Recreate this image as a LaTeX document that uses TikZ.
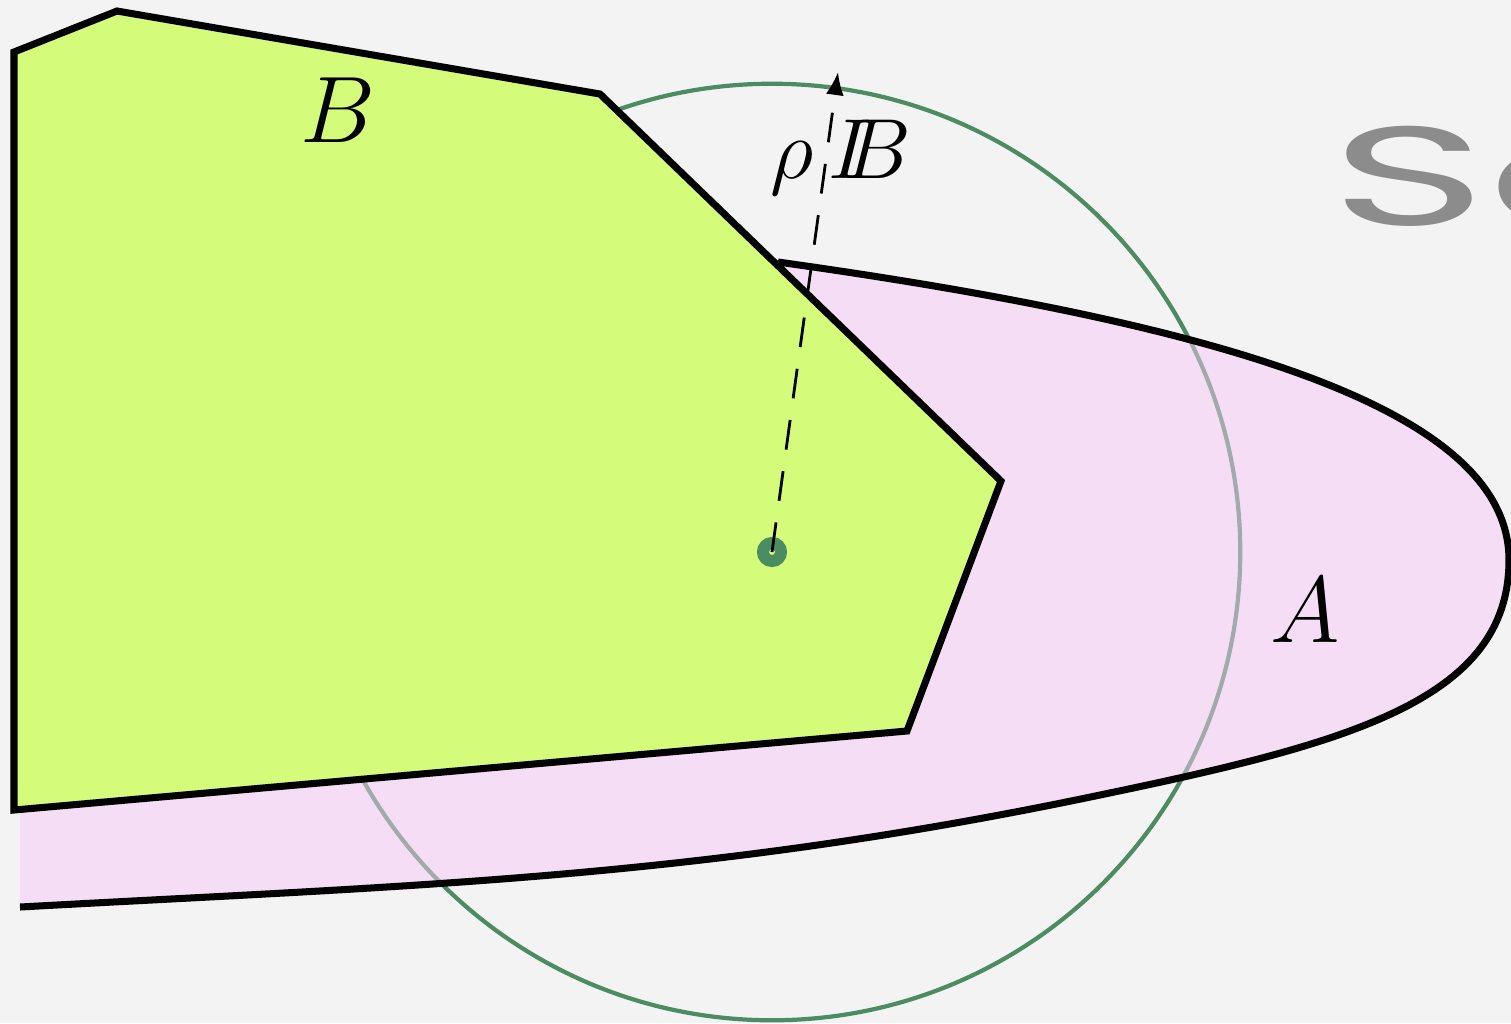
\documentclass[tikz,border=0pt]{standalone}
\usepackage{amsmath,amssymb}
\usepackage{fontspec}
\newfontfamily\scfont{Poppins}
\usetikzlibrary{arrows.meta}
\definecolor{bggray}{RGB}{243,243,243}
\definecolor{bgreen}{RGB}{213,251,123}
\definecolor{apink}{RGB}{247,203,247}
\definecolor{ringgreen}{RGB}{76,140,98}
\definecolor{scgray}{RGB}{140,140,140}

\begin{document}
\begin{tikzpicture}[x=0.01cm, y=-0.01cm,
  setedge/.style={draw=black, line width=2pt},
  setlabel/.style={font=\fontsize{24.88}{30}\selectfont, inner sep=0pt},
  radial/.style={line width=0.8pt, dash pattern=on 8.5pt off 6.2pt, -{Latex[length=0.23cm,width=0.18cm]}}]
  \fill[bggray] (0,0) rectangle (1511,1023);
  \useasboundingbox (0,0) rectangle (1511,1023);

  % ball around the point
  \coordinate (c) at (772,552);
  \draw[ringgreen, line width=1.2pt] (c) circle[radius=4.68cm];

  % set A
  \fill[apink, fill opacity=0.5] (20,907) .. controls (420,885) and (700,879) .. (1100,795)
    .. controls (1350,743) and (1509,700) .. (1509,560)
    .. controls (1509,410) and (1228,325) .. (778,262) -- (20,600) -- cycle;
  \draw[setedge] (20,907) .. controls (420,885) and (700,879) .. (1100,795)
    .. controls (1350,743) and (1509,700) .. (1509,560)
    .. controls (1509,410) and (1228,325) .. (778,262);

  % set B
  \draw[setedge, fill=bgreen] (14,52) -- (117,11) -- (600,94) -- (1001,481) -- (907,731) -- (14,810) -- cycle;

  \node[setlabel, anchor=base] (labB) at (338,142) {\scalebox{1.08}{$B$}};
  \node[setlabel, anchor=base] (labA) at (1305,642) {\scalebox{1.08}{$A$}};
  \node[anchor=base, inner sep=0pt, font=\fontsize{20.74}{25}\selectfont] (labrho) at (841,178) {\scalebox{1.17}{$\rho\,I\!\!B$}};
  \node[anchor=base west, scgray, inner sep=0pt] (sc) at (1330,225) {\scalebox{1.9}[1]{\scfont\fontsize{40}{44}\selectfont Sc}};

  % radius
  \draw[ringgreen, line width=0.12cm] (c) circle[radius=0.09cm];
  \coordinate (rtip) at (838,72);
  \draw[radial] (c) -- (rtip);
\end{tikzpicture}
\end{document}
